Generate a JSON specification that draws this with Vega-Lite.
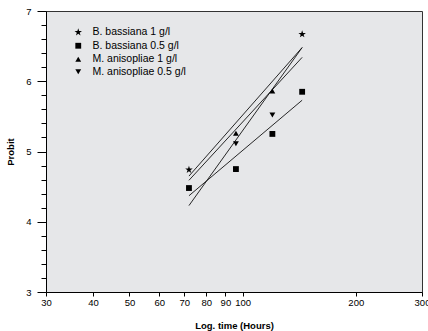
{
  "$schema": "https://vega.github.io/schema/vega-lite/v6.json",
  "width": 376,
  "height": 281,
  "autosize": {"type": "none"},
  "padding": {"left": 46, "top": 11, "right": 6, "bottom": 39},
  "background": "white",
  "config": {
    "view": {"fill": "#e6e7e9", "stroke": "#333333", "strokeWidth": 1},
    "font": "Liberation Sans",
    "axis": {"domainColor": "black", "tickColor": "black", "labelColor": "black", "titleColor": "black", "grid": false, "labelFont": "Liberation Sans", "titleFont": "Liberation Sans"}
  },
  "datasets": {
    "points": [
      {"series": "B. bassiana 1 g/l", "time": 72, "probit": 4.74},
      {"series": "B. bassiana 1 g/l", "time": 144, "probit": 6.67},
      {"series": "B. bassiana 0.5 g/l", "time": 72, "probit": 4.48},
      {"series": "B. bassiana 0.5 g/l", "time": 96, "probit": 4.75},
      {"series": "B. bassiana 0.5 g/l", "time": 120, "probit": 5.25},
      {"series": "B. bassiana 0.5 g/l", "time": 144, "probit": 5.85},
      {"series": "M. anisopliae 1 g/l", "time": 96, "probit": 5.26},
      {"series": "M. anisopliae 1 g/l", "time": 120, "probit": 5.86},
      {"series": "M. anisopliae 0.5 g/l", "time": 96, "probit": 5.11},
      {"series": "M. anisopliae 0.5 g/l", "time": 120, "probit": 5.52}
    ],
    "fits": [
      {"series": "B. bassiana 1 g/l", "time": 72, "probit": 4.65},
      {"series": "B. bassiana 1 g/l", "time": 144, "probit": 6.48},
      {"series": "B. bassiana 0.5 g/l", "time": 72, "probit": 4.37},
      {"series": "B. bassiana 0.5 g/l", "time": 144, "probit": 5.73},
      {"series": "M. anisopliae 1 g/l", "time": 72, "probit": 4.59},
      {"series": "M. anisopliae 1 g/l", "time": 144, "probit": 6.34},
      {"series": "M. anisopliae 0.5 g/l", "time": 72, "probit": 4.23},
      {"series": "M. anisopliae 0.5 g/l", "time": 144, "probit": 6.48}
    ]
  },
  "encoding": {
    "x": {
      "field": "time", "type": "quantitative",
      "scale": {"type": "log", "domain": [30, 300], "nice": false},
      "axis": {
        "title": "Log. time (Hours)", "titleFontSize": 9.5, "titleFontWeight": "bold", "titlePadding": 14,
        "values": [30, 40, 50, 60, 70, 80, 90, 100, 200, 300], "format": "d",
        "tickSize": 4, "labelPadding": 1, "labelFontSize": 9.5, "labelFlush": false, "labelOverlap": false
      }
    },
    "y": {
      "field": "probit", "type": "quantitative",
      "scale": {"domain": [3, 7], "nice": false, "zero": false},
      "axis": {
        "title": "Probit", "titleFontSize": 9.5, "titleFontWeight": "bold", "titlePadding": 10,
        "values": [3, 3.2, 3.4, 3.6, 3.8, 4, 4.2, 4.4, 4.6, 4.8, 5, 5.2, 5.4, 5.6, 5.8, 6, 6.2, 6.4, 6.6, 6.8, 7],
        "labelExpr": "abs(datum.value - round(datum.value)) < 0.001 ? format(datum.value, 'd') : ''",
        "tickSize": {"condition": {"test": "abs(datum.value - round(datum.value)) < 0.001", "value": 9}, "value": 5},
        "labelPadding": 6, "labelFontSize": 9.5, "labelFlush": false, "labelOverlap": false
      }
    }
  },
  "layer": [
    {
      "data": {"name": "fits"},
      "mark": {"type": "line", "color": "#111111", "strokeWidth": 0.9},
      "encoding": {"detail": {"field": "series"}}
    },
    {
      "data": {"name": "points"},
      "mark": {"type": "point", "filled": true, "color": "black", "opacity": 1, "size": 34},
      "encoding": {
        "shape": {
          "field": "series", "type": "nominal",
          "scale": {
            "domain": ["B. bassiana 1 g/l", "B. bassiana 0.5 g/l", "M. anisopliae 1 g/l", "M. anisopliae 0.5 g/l"],
            "range": ["M0,-1.35L0.303,-0.417L1.284,-0.417L0.49,0.159L0.794,1.092L0,0.516L-0.794,1.092L-0.49,0.159L-1.284,-0.417L-0.303,-0.417Z", "square", "triangle-up", "triangle-down"]
          },
          "legend": {
            "title": null, "orient": "none", "legendX": 27, "legendY": 16,
            "labelFontSize": 10.5, "labelColor": "black", "symbolFillColor": "black", "symbolStrokeColor": "black",
            "symbolSize": 34, "rowPadding": 0.5, "labelOffset": 9, "fillColor": null, "padding": 0
          }
        }
      }
    }
  ]
}
